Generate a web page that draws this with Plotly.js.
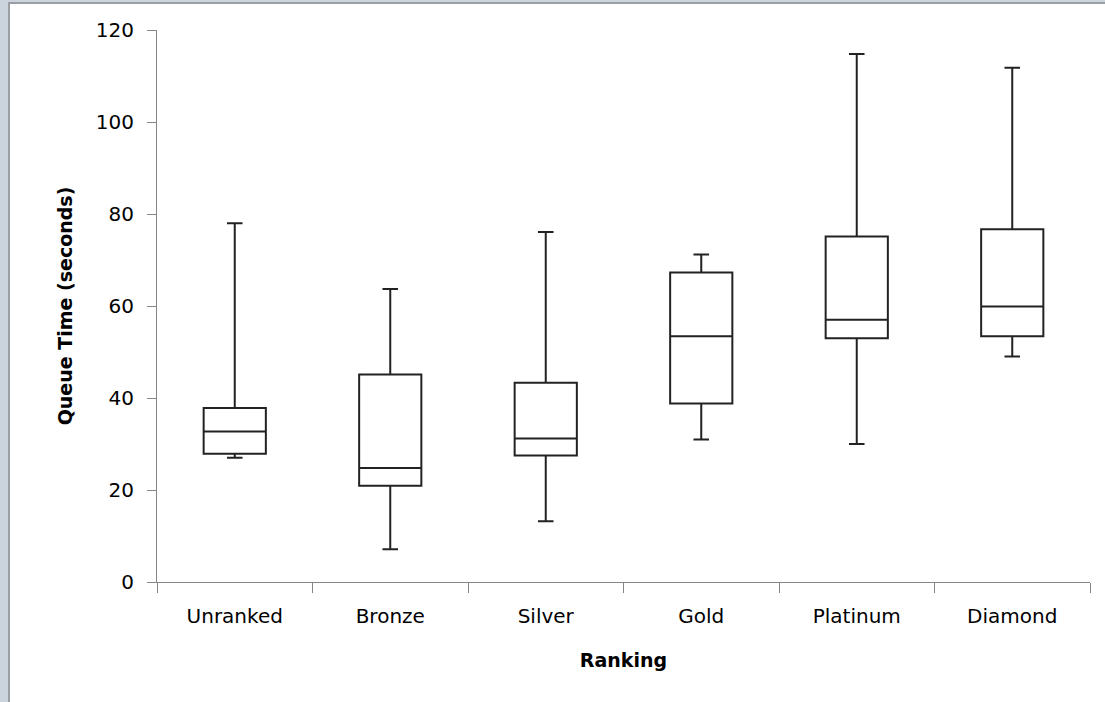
<!DOCTYPE html>
<html>
<head>
<meta charset="utf-8">
<script src="https://cdn.plot.ly/plotly-3.0.1.min.js"></script>
<style>
  html, body { margin: 0; padding: 0; background: #ffffff; }
  #chart { position: absolute; left: 0; top: 0; width: 1105px; height: 702px; }
  #leftstrip { position: absolute; left: 0; top: 0; width: 8px; height: 702px; background: #cbd4dc; z-index: 5; }
  #leftline { position: absolute; left: 8px; top: 2px; width: 2px; height: 700px; background: #9a9fa4; z-index: 5; }
  #topstrip { position: absolute; left: 0; top: 0; width: 1105px; height: 2px; background: #cbd4dc; z-index: 4; }
  #topline { position: absolute; left: 8px; top: 2px; width: 1097px; height: 2px; background: #9a9fa4; z-index: 5; }
</style>
</head>
<body>
<div id="chart"></div>
<div id="leftstrip"></div>
<div id="leftline"></div>
<div id="topstrip"></div>
<div id="topline"></div>
<script>
const categories = ["Unranked", "Bronze", "Silver", "Gold", "Platinum", "Diamond"];
const minValues    = [27.0, 7.1, 13.2, 31.0, 30.0, 49.0];
const q1Values     = [27.9, 20.9, 27.5, 38.8, 53.0, 53.4];
const medianValues = [32.7, 24.8, 31.2, 53.4, 57.0, 59.9];
const q3Values     = [37.8, 45.1, 43.3, 67.3, 75.1, 76.7];
const maxValues    = [78.0, 63.7, 76.1, 71.2, 114.8, 111.8];
const yTickValues  = [0, 20, 40, 60, 80, 100, 120];

const trace = {
  type: "box",
  x: categories,
  q1: q1Values,
  median: medianValues,
  q3: q3Values,
  lowerfence: minValues,
  upperfence: maxValues,
  width: 0.4,
  whiskerwidth: 0.25,
  fillcolor: "rgba(255,255,255,0)",
  line: { color: "#222222", width: 2 },
  boxpoints: false,
  hoverinfo: "skip",
  showlegend: false
};

const layout = {
  width: 1105,
  height: 702,
  margin: { l: 157, r: 15, t: 30, b: 120 },
  paper_bgcolor: "#ffffff",
  plot_bgcolor: "#ffffff",
  font: { family: "DejaVu Sans", color: "#000000" },
  showlegend: false,
  xaxis: {
    type: "category",
    categoryorder: "array",
    categoryarray: categories,
    range: [-0.5, 5.5],
    showline: true,
    linecolor: "#868686",
    linewidth: 1,
    showgrid: false,
    zeroline: false,
    ticks: "outside",
    tickson: "boundaries",
    ticklen: 10,
    tickcolor: "#868686",
    tickwidth: 1,
    tickfont: { family: "DejaVu Sans", size: 20, color: "#000000" },
    ticklabelstandoff: 16,
    title: { text: "<b>Ranking</b>", font: { family: "DejaVu Sans", size: 19, color: "#000000" }, standoff: 26 }
  },
  yaxis: {
    range: [0, 120],
    tickvals: yTickValues,
    ticktext: yTickValues.map(String),
    showline: true,
    linecolor: "#868686",
    linewidth: 1,
    showgrid: false,
    zeroline: false,
    ticks: "outside",
    ticklen: 9,
    tickcolor: "#868686",
    tickwidth: 1,
    tickfont: { family: "DejaVu Sans", size: 20, color: "#000000" },
    ticklabelstandoff: 9,
    title: { text: "<b>Queue Time (seconds)</b>", font: { family: "DejaVu Sans", size: 19, color: "#000000" }, standoff: 18 }
  }
};

Plotly.newPlot("chart", [trace], layout, { staticPlot: true, displayModeBar: false });
</script>
</body>
</html>
